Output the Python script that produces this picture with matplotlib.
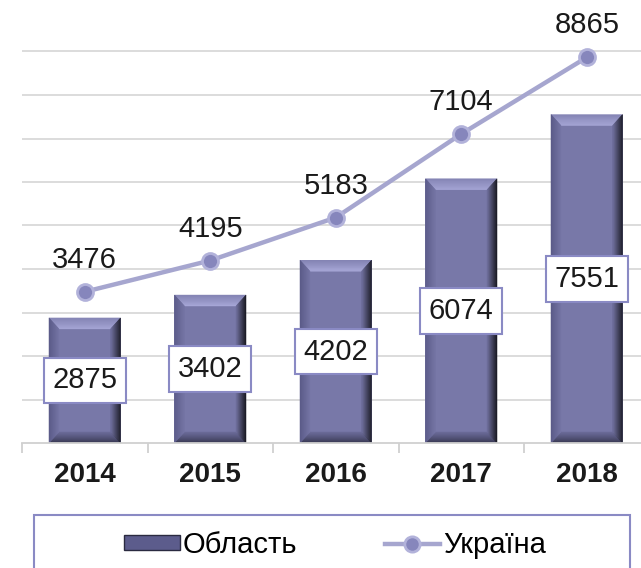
import numpy as np
import matplotlib.pyplot as plt
from matplotlib.patches import Polygon, Rectangle
from matplotlib.lines import Line2D

years = ['2014', '2015', '2016', '2017', '2018']
oblast = [2875, 3402, 4202, 6074, 7551]
ukraine = [3476, 4195, 5183, 7104, 8865]

plt.rcParams['font.family'] = ['Liberation Sans', 'DejaVu Sans']

W, H = 641, 568
fig = plt.figure(figsize=(W / 100, H / 100), dpi=100)

# plot area: baseline at y=443 px, 1000 units = 43.5 px, category = 125.5 px
x0_px, base_px = 22, 443
cat_px = 125.5
unit_px = 0.0435
ymax = 10000
ax = fig.add_axes([x0_px / W, (H - base_px) / H, 5 * cat_px / W, ymax * unit_px / H])
ax.set_xlim(-0.5, 4.5)
ax.set_ylim(0, ymax)

for g in range(1000, 10000, 1000):
    ax.axhline(g, color='#d9d9d9', lw=1.3, zorder=0)

for s in ['left', 'right', 'top']:
    ax.spines[s].set_visible(False)
ax.spines['bottom'].set_color('#d0d0d0')
ax.spines['bottom'].set_linewidth(1.3)
ax.set_yticks([])
ax.set_xticks(range(5))
ax.set_xticklabels(years, fontsize=20, fontweight='bold', color='#1a1a1a')
ax.tick_params(axis='x', which='major', length=0, pad=14)
ax.set_xticks(np.arange(-0.5, 5, 1), minor=True)
ax.tick_params(axis='x', which='minor', length=7, width=1.3, color='#d0d0d0')


def mix(c1, c2, t):
    a = np.array(plt.matplotlib.colors.to_rgb(c1))
    b = np.array(plt.matplotlib.colors.to_rgb(c2))
    return a + (b - a) * t


def band(outer, inner, c_out, c_in, n=10):
    # gradient trapezoid between an outer edge and an inner edge
    outer = np.array(outer, float)
    inner = np.array(inner, float)
    for k in range(n):
        t0, t1 = k / n, (k + 1) / n
        e0 = outer + (inner - outer) * t0
        e1 = outer + (inner - outer) * t1
        poly = [e0[0], e0[1], e1[1], e1[0]]
        ax.add_patch(Polygon(poly, closed=True, fc=mix(c_out, c_in, (t0 + t1) / 2),
                             ec=mix(c_out, c_in, (t0 + t1) / 2), lw=0.3, zorder=2))


bw = 0.57
bx = 10 / cat_px
by = 11 / unit_px
main = '#7878a8'
for i, v in enumerate(oblast):
    l, r = i - bw / 2, i + bw / 2
    ax.add_patch(Rectangle((l, 0), bw, v, fc=main, ec='none', zorder=2))
    # top
    band([(l, v), (r, v)], [(l + bx, v - by), (r - bx, v - by)], '#8484b4', '#a8a8d8')
    # bottom
    band([(l, 0), (r, 0)], [(l + bx, by), (r - bx, by)], '#34344e', '#6c6c9a')
    # left
    band([(l, 0), (l, v)], [(l + bx, by), (l + bx, v - by)], '#5a5a88', '#7474a4')
    # right
    band([(r, 0), (r, v)], [(r - bx, by), (r - bx, v - by)], '#16161f', '#70709e')
    ax.text(i, v / 2, str(v), ha='center', va='center', fontsize=21, color='#1a1a1a',
            zorder=5,
            bbox=dict(boxstyle='square,pad=0.3', fc='white', ec='#8a8ac4', lw=1.5))

xs = np.arange(5)
ax.plot(xs, ukraine, color='#a6a6cf', lw=3.2, marker='o', ms=11.5,
        mfc='#8686bc', mec='#b2b2da', mew=2, zorder=4, clip_on=False)
for i, v in enumerate(ukraine):
    ax.annotate(str(v), (i, v), xytext=(0, 23), textcoords='offset points',
                ha='center', va='center', fontsize=21, color='#1a1a1a', zorder=5,
                annotation_clip=False)

# legend box (runs past the bottom edge)
fig.patches.append(Rectangle((34 / W, -0.05), (630 - 34) / W, (568 - 515) / H + 0.05,
                             transform=fig.transFigure, fc='white', ec='#8a8ac4', lw=1.5))
handles = [Rectangle((0, 0), 1, 1, fc='#5c5c8c', ec='#2a2a40', lw=1),
           Line2D([0], [0], color='#a6a6cf', lw=3.2, marker='o', ms=11,
                  mfc='#8686bc', mec='#b2b2da', mew=2)]
fig.legend(handles, ['Область', 'Україна'], loc='center', ncol=2,
           bbox_to_anchor=(335 / W, (H - 545) / H), frameon=False, fontsize=21,
           handlelength=1.9, handleheight=0.45, handletextpad=0.1, columnspacing=3.0)

plt.savefig('out.png', dpi=100)
